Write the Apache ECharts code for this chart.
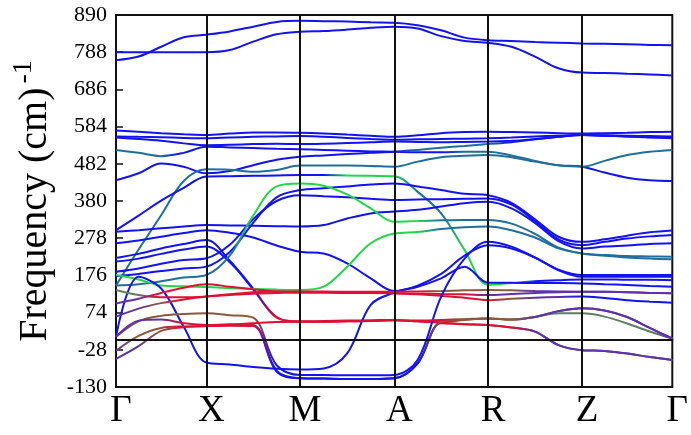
<!DOCTYPE html>
<html><head><meta charset="utf-8">
<script src="https://cdn.jsdelivr.net/npm/echarts@6/dist/echarts.min.js"></script>
<style>html,body{margin:0;padding:0;background:#fff}#c{width:691px;height:435px}</style>
</head><body><div id="c"></div>
<script>
// high-symmetry path
const kLabels = ['Γ','X','M','A','R','Z','Γ'];
const kNodes = [0, 91.3, 186, 281.3, 376, 471, 562.3];
const yMin = -130, yMax = 890, yStep = 102;

// band frequencies (cm^-1), 5 samples per path segment (shared ends)
const b1  = [766,776,803,829,836, 845,858,871,874, 873,872,870,869, 862,848,828,821, 819,816,814,812, 811,810,808,807];
const b2  = [788,788,788,788,788, 794,817,837,844, 846,850,855,858, 853,832,819,814, 803,776,744,732, 731,729,727,724];
const b3  = [573,570,566,563,561, 565,568,568,567, 565,562,559,556, 560,566,569,570, 569,568,566,565, 566,567,569,570];
const b4  = [557,556,555,553,552, 554,556,557,558, 556,553,550,548, 549,550,551,552, 554,557,559,561, 559,557,554,552];
const b5  = [554,550,545,538,533, 534,536,537,536, 537,539,541,543, 542,541,542,543, 545,550,556,561, 560,559,558,557];
const b6  = [520,512,503,512,529, 527,525,523,522, 520,518,516,515, 514,514,515,515, 505,490,478,474, 458,444,437,435];
const b7  = [437,456,483,474,456, 462,478,493,501, 505,509,512,515, 520,526,531,536, 541,549,556,561, 559,557,555,554];
const b8  = [148,247,341,435,467, 466,460,465,477, 477,477,476,474, 488,500,504,506, 500,488,478,474, 490,506,515,520];
const b9  = [300,340,381,416,447, 448,449,450,451, 451,450,449,448, 405,346,246,150, 155,160,163,165, 165,164,164,163];
const b10 = [296,300,305,310,314, 313,312,311,310, 314,332,346,351, 356,365,374,378, 360,320,270,250, 255,258,262,264];
const b11 = [264,272,282,292,300, 293,280,258,241, 236,209,168,133, 148,180,230,259, 250,225,190,172, 172,172,172,172];
const b12 = [224,235,250,262,273, 216,140,60,49, 49,50,51,53, 50,46,42,40, 33,22,-15,-29, -31,-38,-48,-56];
const b13 = [214,222,235,247,255, 212,138,62,50, 51,52,53,54, 50,48,54,58, 55,62,78,86, 80,62,32,3];
const b14 = [186,195,208,218,223, 260,330,380,396, 393,390,386,383, 384,385,386,387, 370,325,275,259, 268,277,283,287];
const b15 = [174,180,188,195,200, 240,320,390,410, 415,420,425,428, 420,410,400,396, 375,330,282,268, 275,285,294,299];
const b16 = [148,152,160,170,177, 230,340,420,428, 422,398,360,323, 325,327,328,328, 318,290,252,236, 232,229,228,227];
const b17 = [177,165,148,146,144, 141,139,137,136, 145,200,264,291, 295,303,308,310, 300,280,250,236, 230,225,222,220];
const b18 = [8,172,140,35,-63, -68,-75,-80,-82, -79,-38,95,129, 145,168,200,156, 156,155,155,154, 152,150,147,145];
const b19 = [136,122,116,116,118, 122,126,128,129, 129,128,128,127, 124,120,115,108, 112,115,117,118, 114,108,104,101];
const b20 = [99,112,128,142,152, 145,138,132,129, 129,128,128,127, 126,125,124,122, 125,128,130,131, 131,130,128,127];
const b21 = [63,85,100,110,118, 124,130,132,132, 132,131,131,131, 132,133,135,136, 135,133,132,131, 131,130,128,127];
const b22 = [8,50,65,70,72, 67,60,-70,-97, -97,-98,-98,-97, -55,118,222,268, 255,225,192,177, 177,177,177,177];
const b23 = [8,52,55,45,40, 42,40,-85,-106, -107,-108,-108,-106, -65,45,42,40, 33,22,-15,-29, -31,-38,-48,-56];
const b24 = [-31,10,32,36,37, 38,37,-88,-106, -107,-108,-108,-106, -65,50,55,58, 55,62,72,72, 63,44,22,3];
const b25 = [-53,-18,24,34,37, 40,45,48,49, 49,50,51,53, 52,54,56,58, 55,62,78,86, 80,62,32,3];

const bands = [b1,b2,b3,b4,b5,b6,b7,b8,b9,b10,b11,b12,b13,b14,b15,b16,b17,b18,b19,b20,b21,b22,b23,b24,b25];

// styling: projection colour code per sample point
const palette = {b:'#1212f2', t:'#1f6e9c', g:'#1fd84a', r:'#de1035', p:'#5e32a8', w:'#8a5a3c', y:'#5f7f62'};
const B = 'bbbbbbbbbbbbbbbbbbbbbbbbb';
const bandCodes = [
  B, B, B, B, B,
  'ttt' + 'bbbbbbbbbbbb' + 'ttttt' + 'bbbbb',
  'bbbbbbbbbbbbbttttbbbbbbbb',
  'ttttttttttttttttttttttttt',
  'bbbbbbbbbbggg' + 'ttgg' + 'gbbb' + 'bbbb',
  B, B,
  'bbbbb' + 'bbrr' + 'rrrr' + 'rrwr' + 'wppp' + 'pppp',
  'bbbbb' + 'bbrr' + 'rrrr' + 'rrww' + 'wwpp' + 'pppp',
  B, B,
  'ttttt' + 'tggg' + 'gggg' + 'gttt' + 'tttt' + 'tttt',
  'ggggg' + 'gggg' + 'gggg' + 'gttt' + 'tttt' + 'tttt',
  B,
  'yyrrr' + 'rrrr' + 'rrrr' + 'rrrr' + 'wppb' + 'bbbb',
  'pprrr' + 'rrrr' + 'rrrr' + 'rrrp' + 'pppp' + 'pppp',
  'ppwrr' + 'rrrr' + 'rrrr' + 'rwww' + 'wppp' + 'pppp',
  'pwwww' + 'wwbb' + 'bbbb' + 'bbbb' + 'bbbb' + 'bbbb',
  'ppprr' + 'rrbb' + 'bbbb' + 'brrr' + 'rppp' + 'pppp',
  'pwwrr' + 'rrbb' + 'bbbb' + 'bwww' + 'wyyy' + 'yyyp',
  'ppwrr' + 'rrrr' + 'rrrr' + 'rrww' + 'wppp' + 'pppp'
];

// sample positions along the path (quarters of each segment)
const kGrid = [];
for (let s = 0; s < kNodes.length - 1; s++) {
  for (let q = 0; q < 4; q++) kGrid.push(kNodes[s] + (kNodes[s+1] - kNodes[s]) * q / 4);
}
kGrid.push(kNodes[kNodes.length - 1]);
const kMax = kNodes[kNodes.length - 1];

const chart = echarts.init(document.getElementById('c'));
const serif = 'Liberation Serif';

const series = [{
  type: 'line', data: [], silent: true, z: 1,
  markLine: {
    silent: true, symbol: ['none','none'], label: {show: false},
    lineStyle: {color: '#111', width: 2, type: 'solid'},
    data: kNodes.slice(1, -1).map(x => ({xAxis: x})).concat([{yAxis: 0}])
  }
}];
bands.forEach((vals, i) => {
  const code = bandCodes[i];
  const stops = kGrid.map((k, j) => ({offset: k / kMax, color: palette[code[j]]}));
  series.push({
    type: 'line', showSymbol: false, smooth: 0.35, silent: true, z: 3,
    data: vals.map((v, j) => [kGrid[j], v]),
    lineStyle: {width: 2, color: new echarts.graphic.LinearGradient(0, 0, 1, 0, stops)}
  });
});

chart.setOption({
  animation: false,
  backgroundColor: '#fff',
  grid: {left: 116, right: 13, top: 15, bottom: 48, show: true, borderColor: '#111', borderWidth: 2, backgroundColor: 'transparent'},
  xAxis: {
    type: 'value', min: 0, max: kMax,
    axisLine: {show: true, lineStyle: {color: '#111', width: 2}},
    axisTick: {show: false},
    splitLine: {show: false},
    axisLabel: {
      customValues: kNodes,
      formatter: v => { let bi = 0; kNodes.forEach((k, i) => { if (Math.abs(k - v) < Math.abs(kNodes[bi] - v)) bi = i; }); return kLabels[bi]; },
      fontFamily: serif, fontSize: 37, color: '#000', margin: 6, padding: [0, 0, 0, 10]
    }
  },
  yAxis: {
    type: 'value', min: yMin, max: yMax, interval: yStep,
    axisLine: {show: true, lineStyle: {color: '#111', width: 2}},
    axisTick: {show: true, inside: true, length: 7, lineStyle: {color: '#111', width: 1.5}},
    splitLine: {show: false},
    axisLabel: {fontFamily: serif, fontSize: 22, color: '#000', margin: 9},
    name: '{a|Frequency (cm)}{b|-1}',
    nameLocation: 'middle', nameGap: 60,
    nameTextStyle: {
      color: '#000', fontFamily: serif,
      rich: {
        a: {fontFamily: serif, fontSize: 40, color: '#000', lineHeight: 46, verticalAlign: 'bottom'},
        b: {fontFamily: serif, fontSize: 28, color: '#000', lineHeight: 46, verticalAlign: 'top', padding: [0, 0, 12, 4]}
      }
    }
  },
  series: series
});
</script>
</body></html>
